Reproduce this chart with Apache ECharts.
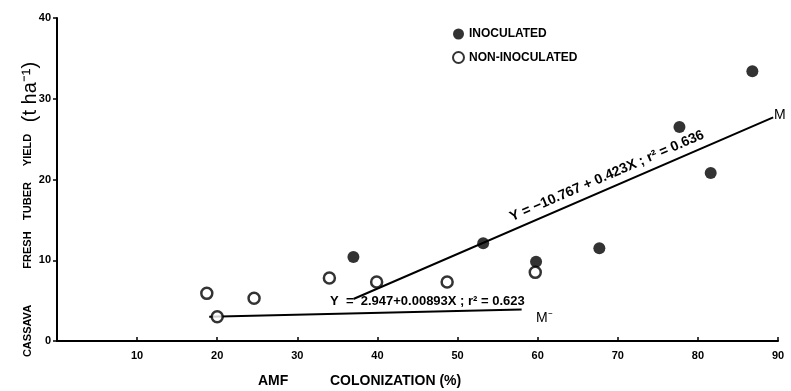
<!DOCTYPE html>
<html>
<head>
<meta charset="utf-8">
<script src="https://cdn.jsdelivr.net/npm/echarts@6/dist/echarts.min.js"></script>
<style>
html,body{margin:0;padding:0;background:#fff;}
#c{width:791px;height:391px;}
</style>
</head>
<body>
<div id="c"></div>
<script>
// AMF colonization (%) and yield (t/ha)
const inocX = [37.0, 53.2, 59.8, 67.7, 77.7, 81.6, 86.8];
const inocY = [10.4, 12.1, 9.8, 11.5, 26.5, 20.8, 33.4];
const nonX = [18.7, 20.0, 24.6, 34.0, 39.9, 48.7, 59.7];
const nonY = [5.9, 3.0, 5.3, 7.8, 7.3, 7.3, 8.5];
// regression line end points
const fitInocX = [37.0, 89.4];
const fitInocY = [5.2, 27.7];
const fitNonX = [19.0, 58.0];
const fitNonY = [3.0, 3.9];
const xTicks = [0, 10, 20, 30, 40, 50, 60, 70, 80, 90];
const yTicks = [0, 10, 20, 30, 40];
const eqInoc = 'Y = \u221210.767 + 0.423X ; r\u00b2 = 0.636';
const eqNon = 'Y  =  2.947+0.00893X ; r\u00b2 = 0.623';
const yTitleWords = ['CASSAVA', 'FRESH', 'TUBER', 'YIELD'];
const yTitleUnit = '(t ha\u207b\u00b9)';

const zip = (a, b) => a.map((v, i) => [v, b[i]]);
const F = 'Liberation Sans';
const wordY = [331, 250, 201, 150];

const yTitle = yTitleWords.map((w, i) => ({
  type: 'text', x: 28, y: wordY[i], rotation: Math.PI / 2,
  style: {text: w, fontFamily: F, fontSize: 11, fontWeight: 'bold', fill: '#000',
    align: 'center', verticalAlign: 'middle'}
}));

const chart = echarts.init(document.getElementById('c'));
chart.setOption({
  animation: false,
  backgroundColor: '#fff',
  textStyle: {fontFamily: F, color: '#000'},
  grid: {left: 57, right: 13, top: 18, bottom: 50},
  legend: {
    left: 447, top: 23, orient: 'vertical', itemGap: 11,
    itemWidth: 11, itemHeight: 11,
    data: ['INOCULATED', 'NON-INOCULATED'],
    textStyle: {fontFamily: F, fontWeight: 'bold', fontSize: 12, color: '#000'}
  },
  xAxis: {
    type: 'value', min: xTicks[0], max: xTicks[xTicks.length - 1], interval: 10,
    axisLine: {lineStyle: {color: '#000', width: 2}},
    axisTick: {inside: true, length: 4, lineStyle: {color: '#000', width: 1.5}},
    splitLine: {show: false},
    axisLabel: {color: '#000', fontSize: 11, fontWeight: 'bold', margin: 9,
      formatter: v => v === 0 ? '' : String(v)}
  },
  yAxis: {
    type: 'value', min: yTicks[0], max: yTicks[yTicks.length - 1], interval: 10,
    axisLine: {lineStyle: {color: '#000', width: 2}},
    axisTick: {length: 4, lineStyle: {color: '#000', width: 1.5}},
    splitLine: {show: false},
    axisLabel: {color: '#000', fontSize: 11, fontWeight: 'bold', margin: 6}
  },
  series: [
    {
      name: 'INOCULATED', type: 'scatter', symbol: 'circle', symbolSize: 12,
      itemStyle: {color: '#000'}, data: zip(inocX, inocY), z: 5
    },
    {
      name: 'NON-INOCULATED', type: 'scatter', symbol: 'circle', symbolSize: 11,
      itemStyle: {color: '#fff', borderColor: '#000', borderWidth: 2.5},
      data: zip(nonX, nonY), z: 5
    },
    {
      name: 'fitInoc', type: 'line', showSymbol: false, silent: true,
      lineStyle: {color: '#000', width: 2}, data: zip(fitInocX, fitInocY), z: 3
    },
    {
      name: 'fitNon', type: 'line', showSymbol: false, silent: true,
      lineStyle: {color: '#000', width: 2}, data: zip(fitNonX, fitNonY), z: 3
    }
  ],
  graphic: yTitle.concat([
    {
      type: 'text', x: 30, y: 92, rotation: Math.PI / 2,
      style: {text: yTitleUnit, fontFamily: F, fontSize: 20, fill: '#000',
        align: 'center', verticalAlign: 'middle'}
    },
    {
      type: 'text', x: 258, y: 381,
      style: {text: 'AMF', fontFamily: F, fontSize: 14, fontWeight: 'bold',
        fill: '#000', verticalAlign: 'middle'}
    },
    {
      type: 'text', x: 330, y: 381,
      style: {text: 'COLONIZATION (%)', fontFamily: F, fontSize: 14,
        fontWeight: 'bold', fill: '#000', verticalAlign: 'middle'}
    },
    {
      type: 'text', x: 607, y: 176, rotation: 23.4 * Math.PI / 180,
      style: {text: eqInoc, fontFamily: F, fontSize: 14, fontWeight: 'bold',
        fill: '#000', align: 'center', verticalAlign: 'middle'}
    },
    {
      type: 'text', x: 330, y: 301,
      style: {text: eqNon, fontFamily: F, fontSize: 13, fontWeight: 'bold',
        fill: '#000', align: 'left', verticalAlign: 'middle'}
    },
    {
      type: 'text', x: 536, y: 318,
      style: {text: 'M\u207b', fontFamily: F, fontSize: 14, fill: '#000',
        verticalAlign: 'middle'}
    },
    {
      type: 'text', x: 774, y: 115,
      style: {text: 'M', fontFamily: F, fontSize: 14, fill: '#000',
        verticalAlign: 'middle'}
    }
  ])
});
</script>
</body>
</html>
